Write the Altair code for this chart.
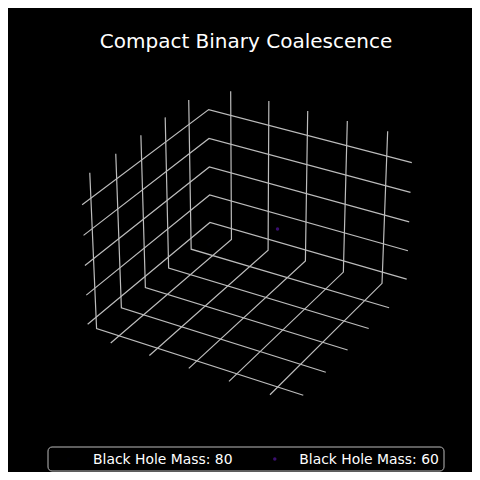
import numpy as np
import pandas as pd
import altair as alt

# axis ticks and limits of the 3D box (data units)
x_ticks = [-1.0, -0.5, 0.0, 0.5, 1.0]
y_ticks = [-1.0, -0.5, 0.0, 0.5, 1.0]
z_ticks = [-1.0, -0.5, 0.0, 0.5, 1.0]
x_lim = [-1.296, 1.308]
y_lim = [-1.166, 1.431]
z_lim = [-1.198, 1.410]

# the two black holes
masses = [80, 60]
bh_x = [-0.24, 0.24]
bh_y = [-0.33, 0.33]
bh_z = [0.20, 0.20]
bh_colors = ["#000004", "#3b0f70"]

title_text = "Compact Binary Coalescence"

# view (matplotlib-like default 3D camera), pixel centre of the projection
ELEV, AZIM, DIST, FOCAL = 30, -60, 10, 1
SCALE, CX, CY = 2080, 250, 237
W = H = 464
MARGIN = 8  # page margin, the chart starts there

box = np.array([4.0, 4.0, 3.0])
box *= 1.8294640721620434 / np.linalg.norm(box)
el, az = np.radians(ELEV), np.radians(AZIM)
w = np.array([np.cos(el) * np.cos(az), np.cos(el) * np.sin(az), np.sin(el)])
u = np.cross([0, 0, 1], w)
u /= np.linalg.norm(u)
v = np.cross(w, u)
lo = np.array([x_lim[0], y_lim[0], z_lim[0]])
hi = np.array([x_lim[1], y_lim[1], z_lim[1]])


def project(pts):
    d = (np.asarray(pts, float) - lo) / (hi - lo) * box - box / 2
    depth = DIST - d @ w
    return CX + SCALE * FOCAL * (d @ u) / depth, CY - SCALE * FOCAL * (d @ v) / depth


# grid lines: each one an L across two back panes
paths = []
for t in x_ticks:
    paths.append([(t, y_lim[0], z_lim[0]), (t, y_lim[1], z_lim[0]), (t, y_lim[1], z_lim[1])])
for t in y_ticks:
    paths.append([(x_lim[1], t, z_lim[0]), (x_lim[0], t, z_lim[0]), (x_lim[0], t, z_lim[1])])
for t in z_ticks:
    paths.append([(x_lim[0], y_lim[0], t), (x_lim[0], y_lim[1], t), (x_lim[1], y_lim[1], t)])
rows = []
for i, p in enumerate(paths):
    px, py = project(p)
    for k in range(3):
        rows.append({"line": i, "k": k, "px": px[k], "py": py[k]})
grid = pd.DataFrame(rows)

bx, by = project(np.column_stack([bh_x, bh_y, bh_z]))
labels = [f"Black Hole Mass: {m}" for m in masses]
holes = pd.DataFrame({"label": labels, "px": bx, "py": by})

X = lambda: alt.X("px:Q").scale(domain=[MARGIN, MARGIN + W]).axis(None)
Y = lambda: alt.Y("py:Q").scale(domain=[MARGIN + H, MARGIN]).axis(None)

layers = [
    alt.Chart(grid).mark_line(color="#bcbcbc", strokeWidth=1.2).encode(
        x=X(), y=Y(), detail="line:N", order="k:Q"
    ),
    alt.Chart(holes).mark_circle(size=12, opacity=1).encode(
        x=X(), y=Y(),
        color=alt.Color("label:N").scale(domain=labels, range=bh_colors).legend(None),
    ),
    alt.Chart(pd.DataFrame({"t": [title_text]})).mark_text(
        font="DejaVu Sans", fontSize=20, color="white", align="center", baseline="alphabetic"
    ).encode(text="t:N", x=alt.value(238), y=alt.value(40)),
]

# legend drawn by hand, matplotlib style, two columns in one row
LEG_X0, LEG_X1, LEG_Y0, LEG_Y1 = 40, 436, 439, 463
LEG_STEP = 206.3
LEG_MID = (LEG_Y0 + LEG_Y1) / 2
layers.append(
    alt.Chart(pd.DataFrame({"k": [0]})).mark_rect(
        fill="black", stroke="#bbbbbb", strokeWidth=1, cornerRadius=4
    ).encode(x=alt.value(LEG_X0), x2=alt.value(LEG_X1), y=alt.value(LEG_Y0), y2=alt.value(LEG_Y1))
)
for i, (lab, col) in enumerate(zip(labels, bh_colors)):
    one = pd.DataFrame({"label": [lab]})
    layers.append(
        alt.Chart(one).mark_circle(size=12, color=col, opacity=1).encode(
            x=alt.value(LEG_X0 + 20.5 + i * LEG_STEP), y=alt.value(LEG_MID)
        )
    )
    layers.append(
        alt.Chart(one).mark_text(
            font="DejaVu Sans", fontSize=13.9, color="white", align="left", baseline="alphabetic"
        ).encode(text="label:N", x=alt.value(LEG_X0 + 45 + i * LEG_STEP), y=alt.value(LEG_MID + 5))
    )

chart = alt.layer(*layers).properties(
    width=W, height=H, padding=0, autosize="none", background="black"
).configure_view(stroke=None)

chart.save("out.html", embed_options={"renderer": "svg", "actions": False})
